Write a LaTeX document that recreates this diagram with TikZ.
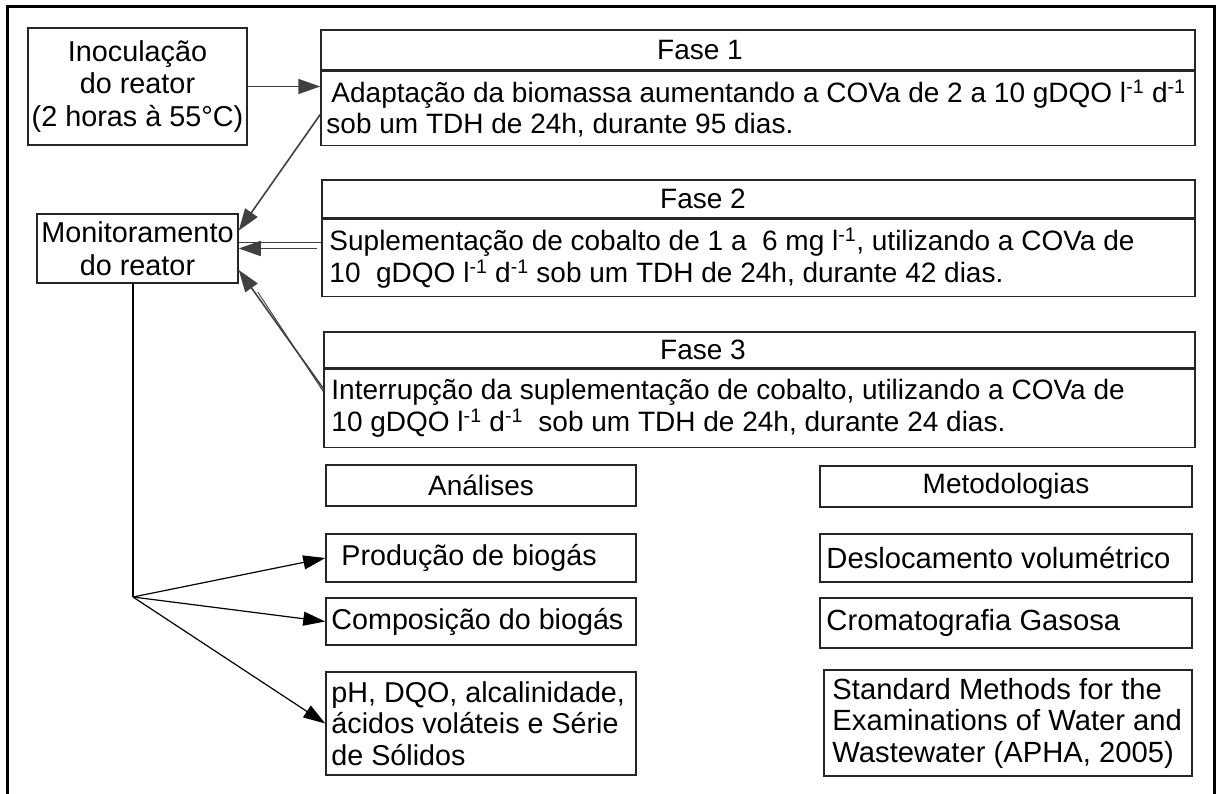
\documentclass[tikz,border=0pt]{standalone}
\usepackage{fontspec}
\setmainfont{Liberation Sans}
\usetikzlibrary{arrows.meta}

\begin{document}
\begin{tikzpicture}[x=1pt, y=-1pt,
  box/.style={draw=\cBox, line width=1.5pt, inner sep=0pt, align=center, font=\fsz},
  txt/.style={inner sep=0pt, align=left, anchor=west, font=\fsz},
  cn/.style={draw=\cLine, line width=1.6pt, -{Triangle[length=22pt,width=15pt]}},
  cnb/.style={draw=\cDot, line width=1.2pt, -{Triangle[length=22pt,width=14pt]}},
  twin/.style={draw=\cLine, line width=0.9pt}]
\def\cBox{black!85}
\def\cLine{black!75}
\def\cDot{black}
\def\fsz{\fontsize{28}{31.5}\selectfont}
\def\fszl{\fontsize{28.8}{32.5}\selectfont}
\def\fsza{\fontsize{28.7}{31.5}\selectfont}
\def\fszr{\fontsize{29.2}{31.5}\selectfont}
\useasboundingbox (0,0) rectangle (1221,794);
% outer frame, open at the bottom
\draw[line width=3pt] (7,794) -- (7,7) -- (1214,7) -- (1214,794);

% left column
\node[box, font=\fszl, minimum width=219pt, minimum height=117pt] (inoc) at (137.5,86.5) {Inoculação\\do reator\\(2 horas à 55°C)};
\node[box, font=\fszl, minimum width=201pt, minimum height=69pt] (mon) at (137.5,248.5) {Monitoramento\\do reator};

% phases
\node[box, minimum width=874pt, minimum height=40pt] (f1h) at (758,50) {};
\node[box, minimum width=874pt, minimum height=74pt, anchor=north] (f1) at (f1h.south) {};
\node[txt, anchor=center] (f1ht) at (700,50) {Fase 1};
\node[txt] (f1t) at ([xshift=6pt]f1.west) {\hspace*{5pt}Adaptação da biomassa aumentando a COVa de 2 a 10 gDQO l\textsuperscript{-1} d\textsuperscript{-1}\\sob um TDH de 24h, durante 95 dias.};

\node[box, minimum width=873pt, minimum height=38pt] (f2h) at (758.5,199) {};
\node[box, minimum width=873pt, minimum height=77pt, anchor=north] (f2) at (f2h.south) {};
\node[txt, anchor=center] (f2ht) at (703,199) {Fase 2};
\node[txt] (f2t) at ([xshift=8pt]f2.west) {Suplementação de cobalto de 1 a~ 6 mg l\textsuperscript{-1}, utilizando a COVa de\\10~ gDQO l\textsuperscript{-1} d\textsuperscript{-1} sob um TDH de 24h, durante 42 dias.};

\node[box, minimum width=871pt, minimum height=36pt] (f3h) at (759.5,350) {};
\node[box, minimum width=871pt, minimum height=78pt, anchor=north] (f3) at (f3h.south) {};
\node[txt, anchor=center] (f3ht) at (703,350) {Fase 3};
\node[txt] (f3t) at ([xshift=8pt]f3.west) {Interrupção da suplementação de cobalto, utilizando a COVa de\\10 gDQO l\textsuperscript{-1} d\textsuperscript{-1}~ sob um TDH de 24h, durante 24 dias.};

% analyses
\node[box, minimum width=310pt, minimum height=41pt] (ana) at (481,485.5) {Análises};
\node[box, minimum width=310pt, minimum height=48pt] (prod) at (481,558) {};
\node[txt, font=\fsza] (prodt) at ([xshift=16pt]prod.west) {Produção de biogás};
\node[box, minimum width=310pt, minimum height=47pt] (comp) at (481,621.5) {};
\node[txt, font=\fsza] (compt) at ([xshift=6pt]comp.west) {Composição do biogás};
\node[box, minimum width=310pt, minimum height=103pt] (ph) at (481,723.5) {};
\node[txt, font=\fsza] (pht) at ([xshift=6pt]ph.west) {pH, DQO, alcalinidade,\\ácidos voláteis e Série\\de Sólidos};

% methods
\node[box, minimum width=372pt, minimum height=41pt] (met) at (1006,486.5) {Metodologias};
\node[box, minimum width=372pt, minimum height=48pt] (desl) at (1006,558) {};
\node[txt, font=\fszr] (deslt) at ([xshift=7pt]desl.west) {Deslocamento volumétrico};
\node[box, minimum width=372pt, minimum height=50pt] (crom) at (1006,623) {};
\node[txt, font=\fszr] (cromt) at ([xshift=7pt]crom.west) {Cromatografia Gasosa};
\node[box, minimum width=368pt, minimum height=106pt] (std) at (1008,723) {};
\node[txt, font=\fszr] (stdt) at ([xshift=9pt]std.west) {Standard Methods for the\\Examinations of Water and\\Wastewater (APHA, 2005)};

% connectors
\draw[cn] (inoc.east) -- (inoc.east -| f1.west);
\draw[cn] ([yshift=-6pt]f1.west) -- (mon.10);
\draw[twin] ([yshift=6.5pt]mon.east) -- ([yshift=6.5pt]mon.east -| f2.west);
\draw[cn] ([xshift=-4pt]f2.west |- mon.east) -- (mon.east);
\draw[twin] ([yshift=17pt]f3.west) -- ([xshift=19pt,yshift=-22pt]mon.-12);
\draw[cn] ([yshift=20pt]f3.west) -- (mon.-12);

\coordinate (hub) at (133,597);
\draw[cnb, -] (mon.south -| hub) -- (hub);
\draw[cnb] (hub) -- (prod.west);
\draw[cnb] (hub) -- (comp.west);
\draw[cnb] (hub) -- (ph.west);
\end{tikzpicture}
\end{document}
